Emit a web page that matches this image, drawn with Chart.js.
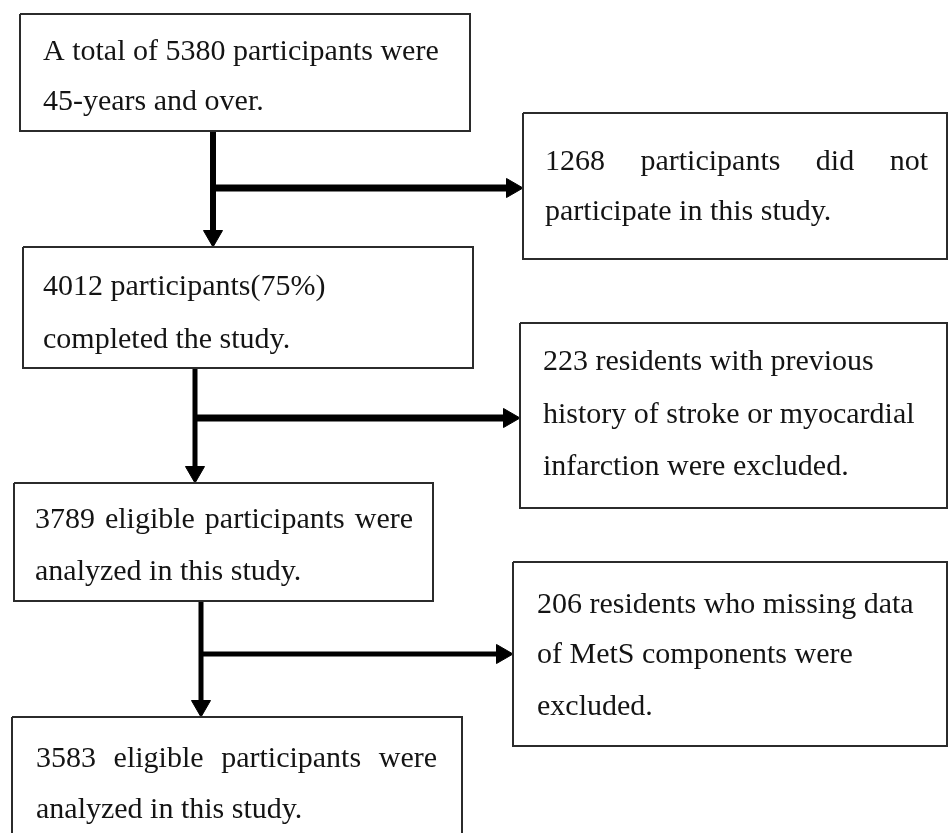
<!DOCTYPE html>
<html>
<head>
<meta charset="utf-8">
<script src="https://cdn.jsdelivr.net/npm/chart.js@4"></script>
<style>
  html, body { margin: 0; padding: 0; background: #fff; }
  #wrap { width: 948px; height: 833px; position: relative; }
</style>
</head>
<body>
<div id="wrap"><canvas id="flowChart"></canvas></div>
<script>
// flow counts
const mainCounts = [5380, 4012, 3789, 3583];
const excludedCounts = [1268, 223, 206];
const completedPct = 75;

// text of each box, {n} is the count
const mainLines = [
  ['A total of {n} participants were', '45-years and over.'],
  ['{n} participants(' + completedPct + '%)', 'completed the study.'],
  ['{n} eligible participants were', 'analyzed in this study.'],
  ['{n} eligible participants were', 'analyzed in this study.']
];
const excludedLines = [
  ['{n} participants did not', 'participate in this study.'],
  ['{n} residents with previous', 'history of stroke or myocardial', 'infarction were excluded.'],
  ['{n} residents who missing data', 'of MetS components were', 'excluded.']
];

// layout (pixels == scale units, y goes down)
const mainBoxes = [
  { x0: 20, y0: 14, x1: 470, y1: 131, tx: 43, base: [60, 110], justify: [] },
  { x0: 23, y0: 247, x1: 473, y1: 368, tx: 43, base: [295, 348], justify: [] },
  { x0: 14, y0: 483, x1: 433, y1: 601, tx: 35, base: [528, 580], justify: [413] },
  { x0: 12, y0: 717, x1: 462, y1: 860, tx: 36, base: [767, 818], justify: [437] }
];
const sideBoxes = [
  { x0: 523, y0: 113, x1: 947, y1: 259, tx: 545, base: [170, 220], justify: [928] },
  { x0: 520, y0: 323, x1: 947, y1: 508, tx: 543, base: [370, 423, 475], justify: [] },
  { x0: 513, y0: 562, x1: 947, y1: 746, tx: 537, base: [613, 663, 715], justify: [] }
];
// vertical stem x, branch y, line widths
const stems = [
  { x: 213, branchY: 188, vw: 6, hw: 7 },
  { x: 195, branchY: 418, vw: 5, hw: 7 },
  { x: 201, branchY: 654, vw: 5, hw: 5 }
];
const HEAD = 11;

const datasets = [];

function boxDataset(b) {
  return {
    type: 'line',
    data: [{x: b.x0, y: b.y0}, {x: b.x1, y: b.y0}, {x: b.x1, y: b.y1}, {x: b.x0, y: b.y1}, {x: b.x0, y: b.y0}],
    borderColor: '#2b2b2b', borderWidth: 2, pointRadius: 0, fill: false, tension: 0, clip: false
  };
}
mainBoxes.forEach(b => datasets.push(boxDataset(b)));
sideBoxes.forEach(b => datasets.push(boxDataset(b)));

stems.forEach((s, i) => {
  const from = mainBoxes[i], to = mainBoxes[i + 1], side = sideBoxes[i];
  datasets.push({
    type: 'line', data: [{x: s.x, y: from.y1}, {x: s.x, y: to.y0 - HEAD}],
    borderColor: '#000', borderWidth: s.vw, pointRadius: 0, borderCapStyle: 'butt'
  });
  datasets.push({
    type: 'line', data: [{x: s.x, y: s.branchY}, {x: side.x0 - HEAD, y: s.branchY}],
    borderColor: '#000', borderWidth: s.hw, pointRadius: 0, borderCapStyle: 'butt'
  });
  // arrow heads, triangle centre sits one radius back from the tip
  datasets.push({
    type: 'scatter', data: [{x: s.x, y: to.y0 - HEAD}],
    pointStyle: 'triangle', rotation: 180, pointRadius: HEAD,
    backgroundColor: '#000', borderColor: '#000', borderWidth: 1
  });
  datasets.push({
    type: 'scatter', data: [{x: side.x0 - HEAD, y: s.branchY}],
    pointStyle: 'triangle', rotation: 90, pointRadius: HEAD,
    backgroundColor: '#000', borderColor: '#000', borderWidth: 1
  });
});

const boxText = {
  id: 'boxText',
  afterDatasetsDraw(chart) {
    const ctx = chart.ctx, xs = chart.scales.x, ys = chart.scales.y;
    ctx.save();
    ctx.font = '30px "Liberation Serif", "Times New Roman", serif';
    ctx.fillStyle = '#141414';
    ctx.textBaseline = 'alphabetic';
    const drawBox = (b, lines, n) => {
      lines.forEach((raw, li) => {
        const line = raw.replace('{n}', n);
        const x = xs.getPixelForValue(b.tx);
        const y = ys.getPixelForValue(b.base[li]);
        const target = li === 0 && b.justify.length ? xs.getPixelForValue(b.justify[0]) : null;
        if (!target) { ctx.fillText(line, x, y); return; }
        const words = line.split(' ');
        const total = words.reduce((a, w) => a + ctx.measureText(w).width, 0);
        const gap = (target - x - total) / (words.length - 1);
        let cx = x;
        words.forEach(w => { ctx.fillText(w, cx, y); cx += ctx.measureText(w).width + gap; });
      });
    };
    mainBoxes.forEach((b, i) => drawBox(b, mainLines[i], mainCounts[i]));
    sideBoxes.forEach((b, i) => drawBox(b, excludedLines[i], excludedCounts[i]));
    ctx.restore();
  }
};

new Chart(document.getElementById('flowChart'), {
  type: 'scatter',
  data: { datasets },
  options: {
    responsive: true,
    maintainAspectRatio: false,
    animation: false,
    layout: { padding: 0, autoPadding: false },
    scales: {
      x: { type: 'linear', min: 0, max: 948, display: false },
      y: { type: 'linear', min: 0, max: 833, reverse: true, display: false }
    },
    plugins: { legend: { display: false }, tooltip: { enabled: false } },
    elements: { line: { tension: 0 } }
  },
  plugins: [boxText]
});
</script>
</body>
</html>
